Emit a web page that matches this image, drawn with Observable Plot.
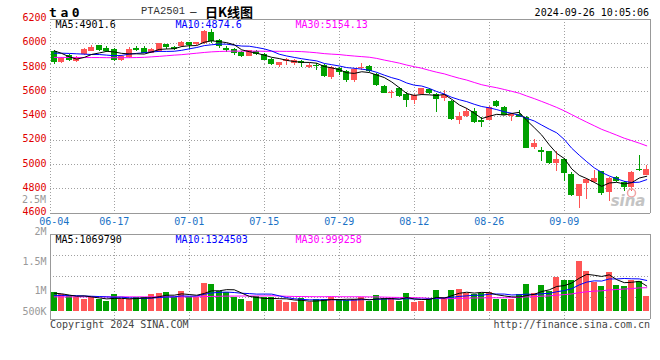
<!DOCTYPE html>
<html><head><meta charset="utf-8">
<script src="https://cdn.jsdelivr.net/npm/d3@7"></script>
<script src="https://cdn.jsdelivr.net/npm/@observablehq/plot@0.6"></script>
<style>
body{margin:0;background:#fff;}
#wrap{position:relative;width:660px;height:360px;overflow:hidden;background:#fff;font-family:"DejaVu Sans Mono",monospace;}
.abs{position:absolute;white-space:nowrap;line-height:1;}
#wrap svg{position:absolute;left:0;overflow:visible;}
</style></head><body><div id="wrap"></div>
<script>
// ---------------- data ----------------
const dates = ["06-04","06-05","06-06","06-07","06-11","06-12","06-13","06-14","06-17","06-18","06-19","06-20","06-21","06-24","06-25","06-26","06-27","06-28",
"07-01","07-02","07-03","07-04","07-05","07-08","07-09","07-10","07-11","07-12","07-15","07-16","07-17","07-18","07-19","07-22","07-23","07-24","07-25","07-26","07-29","07-30","07-31",
"08-01","08-02","08-05","08-06","08-07","08-08","08-09","08-12","08-13","08-14","08-15","08-16","08-19","08-20","08-21","08-22","08-23","08-26","08-27","08-28","08-29","08-30",
"09-02","09-03","09-04","09-05","09-06","09-09","09-10","09-11","09-12","09-13","09-18","09-19","09-20","09-23","09-24","09-25","09-26"];
const open = [5929,5842,5902,5853,5907,5935,5978,5954,5946,5859, 5883,5956,5956,5918,5932,5986,5962,5973,6003,5989,
  6000,6087,6019,5959,5946,5924,5891,5932,5908,5867, 5815,5853,5837,5848,5804,5815,5818,5720,5788,5766,
  5693,5788,5807,5742,5646,5584,5630,5578,5529,5578, 5619,5578,5543,5516,5366,5393,5439,5366,5366,5516,
  5472,5399,5412,5390,5140,5113,5105,5010,5040,4917, 4740,4844,4849,4939,4765,4893,4849,4808,4958,4912];
const close = [5842,5878,5861,5886,5948,5967,5937,5929,5859,5891, 5946,5940,5918,5946,5995,5965,5951,6008,5978,6003,
  6101,6011,5973,5937,5916,5891,5937,5905,5861,5826, 5839,5864,5856,5829,5820,5807,5728,5801,5755,5693,
  5780,5796,5769,5652,5589,5597,5562,5529,5573,5624, 5584,5537,5570,5374,5393,5439,5344,5344,5467,5475,
  5407,5412,5390,5135,5176,5099,5010,5040,4923,4746, 4835,4876,4882,4760,4884,4863,4808,4936,4950,4958];
const high = [5937,5883,5907,5891,5954,5978,5984,5970,5959,5902, 5962,5970,5970,5954,6000,5992,5973,6014,6008,6008,
  6103,6114,6033,5973,5956,5929,5943,5943,5916,5875, 5845,5875,5867,5856,5837,5834,5823,5807,5799,5774,
  5788,5837,5815,5747,5652,5611,5635,5597,5578,5630, 5630,5584,5611,5529,5429,5461,5461,5385,5480,5529,
  5478,5420,5445,5396,5203,5140,5110,5108,5048,4936, 4835,4884,4952,4944,4890,4903,4863,4944,5072,4990];
const low = [5823,5834,5853,5845,5902,5929,5932,5924,5853,5853, 5875,5929,5913,5913,5924,5951,5937,5965,5951,5984,
  5992,6000,5959,5924,5897,5883,5888,5897,5856,5820, 5801,5820,5820,5801,5793,5774,5720,5701,5733,5679,
  5673,5774,5761,5644,5584,5543,5556,5467,5494,5570, 5578,5426,5516,5366,5333,5385,5339,5303,5361,5469,
  5401,5358,5385,5129,5121,5026,5004,4944,4863,4740, 4637,4713,4841,4748,4691,4854,4781,4781,4944,4912];
const volume = [984000,944000,916000,900000,860000,900000,860000,832000,944000,860000,
  860000,888000,888000,944000,961000,984000,888000,1000000,888000,900000,
  1135000,1113000,1000000,984000,888000,860000,832000,910000,900000,888000,
  843000,815000,815000,872000,815000,860000,860000,900000,860000,843000,
  860000,889000,822000,928000,872000,872000,832000,966000,804000,827000,
  872000,1012000,900000,1012000,1029000,961000,939000,961000,984000,860000,
  860000,860000,944000,1113000,961000,1096000,1000000,1231000,1180000,1180000,
  1500000,1332000,1152000,1079000,1315000,1096000,1079000,1180000,1163000,916000];
// moving-average values at the start of the window (their earlier inputs are off-chart)
const ma5Head = [5937,5916,5888,5869];
const ma10Head = [5918,5918,5916,5913,5910,5907,5907,5902,5897];
const ma30Head = [5883,5883,5883,5883,5882,5882,5882,5881,5881,5881,5881,5882,5884,5888,5892,5897,5902,5906,5912,5918,5924,5929,5932,5934,5935,5935,5935,5935,5934];
const volMa5Head = [967000,956000,935000,915000];
const volMa10Head = [930000,930000,928000,925000,920000,915000,910000,905000,898000];
const volMa30Head = [905000,905000,905000,905000,905000,905000,905000,905000,905000,905000,905000,905000,905000,905000,905000,905000,905000,905000,905000,905000,910000,912000,915000,917000,918000,919000,920000,920000,920000];
const priceTicks = [4600,4800,5000,5200,5400,5600,5800,6000,6200];
const dateTicks = ["06-04","06-17","07-01","07-15","07-29","08-12","08-26","09-09"];
const volTicks = [2000000,1500000,1000000,500000];
const volTickLabels = ["2M","1.5M","1M","500K"];
const priceLegend = ["MA5:4901.6","MA10:4874.6","MA30:5154.13"];
const volLegend = ["MA5:1069790","MA10:1324503","MA30:999258"];

// ---------------- derived ----------------
function movingAvg(vals, k, head) {
  return vals.map((_, i) => i < head.length ? head[i] : d3.mean(vals.slice(i - k + 1, i + 1)));
}
const ma5 = movingAvg(close, 5, ma5Head), ma10 = movingAvg(close, 10, ma10Head), ma30 = movingAvg(close, 30, ma30Head);
const vma5 = movingAvg(volume, 5, volMa5Head), vma10 = movingAvg(volume, 10, volMa10Head), vma30 = movingAvg(volume, 30, volMa30Head);
const N = dates.length;
const rows = dates.map((d, i) => ({i, date: d, open: open[i], close: close[i], high: high[i], low: low[i], vol: volume[i],
  up: close[i] >= open[i], ma5: ma5[i], ma10: ma10[i], ma30: ma30[i], vma5: vma5[i], vma10: vma10[i], vma30: vma30[i]}));
const tickIdx = dateTicks.map(t => dates.indexOf(t));

// ---------------- styles ----------------
const RED = "#ff5555", GREEN = "#00a000", GRID = "#a0a0a0", BORDER = "#999", BLUE = "#1a72c6";
const LEG = ["#000", "#0000ff", "#ff00ff"];
const MONO = "'DejaVu Sans Mono', monospace";
const xDomain = [-0.5, N - 0.5];
const [pMin, pMax] = [priceTicks[0], priceTicks[priceTicks.length - 1]];
const volFloor = 532000, volTop = 1950000, volBase = 658000;
const dotted = {stroke: GRID, strokeDasharray: "1,2", shapeRendering: "crispEdges"};
const solid = {stroke: BORDER, shapeRendering: "crispEdges"};

const wrap = document.getElementById("wrap");

const price = Plot.plot({
  width: 660, height: 228,
  marginLeft: 50, marginRight: 10, marginTop: 18.5, marginBottom: 15.5,
  x: {domain: xDomain, axis: null},
  y: {domain: [pMin, pMax], axis: null},
  style: {fontFamily: MONO, fontSize: "10px", background: "transparent"},
  marks: [
    Plot.ruleY(priceTicks.filter(v => v > pMin && v < pMax), dotted),
    Plot.ruleX(tickIdx.filter(i => i > 0), dotted),
    Plot.ruleX([xDomain[0]], dotted),
    Plot.ruleX([xDomain[1]], solid),
    Plot.ruleY([pMin, pMax], solid),
    Plot.ruleX(rows, {x: "i", y1: "low", y2: "high", stroke: d => d.up ? RED : GREEN, shapeRendering: "crispEdges"}),
    Plot.rect(rows, {x1: d => d.i - 0.4, x2: d => d.i + 0.4, y1: "open", y2: "close", fill: d => d.up ? RED : GREEN, shapeRendering: "crispEdges"}),
    Plot.line(rows, {x: "i", y: "ma30", stroke: LEG[2], strokeWidth: 1}),
    Plot.line(rows, {x: "i", y: "ma10", stroke: LEG[1], strokeWidth: 1}),
    Plot.line(rows, {x: "i", y: "ma5", stroke: LEG[0], strokeWidth: 1}),
    Plot.text(priceTicks, {y: d => d, text: d => String(d), frameAnchor: "left", lineAnchor: "middle", textAnchor: "end", dx: -4, dy: -1, fill: "#e00000"}),
    Plot.text(dateTicks, {x: d => dates.indexOf(d), text: d => d, frameAnchor: "bottom", lineAnchor: "middle", dy: 8.5, fill: BLUE}),
    ...priceLegend.map((t, k) => Plot.text([t], {text: d => d, frameAnchor: "top-left", lineAnchor: "middle", textAnchor: "start", dx: 5 + 120 * k, dy: 5.5, fill: LEG[k]})),
    Plot.dot([0], {frameAnchor: "bottom-right", dx: -19, dy: -20, r: 4, stroke: "#f2a4a4", strokeWidth: 1.5, fill: "none"}),
    Plot.text(["sina"], {text: d => d, frameAnchor: "bottom-right", lineAnchor: "middle", textAnchor: "end", dx: -5, dy: -12, fill: "#c4c4c4", fontSize: 15, fontWeight: "bold", fontStyle: "italic", fontFamily: "'DejaVu Sans', sans-serif"})
  ]
});
price.style.top = "0px";
wrap.appendChild(price);

const volPlot = Plot.plot({
  width: 660, height: 134,
  marginLeft: 50, marginRight: 10, marginTop: 8.3, marginBottom: 41.5,
  x: {domain: xDomain, axis: null},
  y: {domain: [volFloor, volTop], axis: null},
  style: {fontFamily: MONO, fontSize: "10px", background: "transparent"},
  marks: [
    Plot.ruleY(d3.range(1, 4).map(k => volFloor + k * (volTop - volFloor) / 4), dotted),
    Plot.ruleX(tickIdx.filter(i => i > 0), dotted),
    Plot.ruleX(xDomain, solid),
    Plot.ruleY([volFloor, volTop], solid),
    Plot.rect(rows, {x1: d => d.i - 0.4, x2: d => d.i + 0.4, y1: volBase, y2: "vol", fill: d => d.up ? RED : GREEN, shapeRendering: "crispEdges"}),
    Plot.line(rows, {x: "i", y: "vma30", stroke: LEG[2], strokeWidth: 1}),
    Plot.line(rows, {x: "i", y: "vma10", stroke: LEG[1], strokeWidth: 1}),
    Plot.line(rows, {x: "i", y: "vma5", stroke: LEG[0], strokeWidth: 1}),
    Plot.text(volTicks, {y: d => Math.max(d, volBase), text: (d, i) => volTickLabels[i], frameAnchor: "left", lineAnchor: "middle", textAnchor: "end", dx: -4, fill: "#999"}),
    ...volLegend.map((t, k) => Plot.text([t], {text: d => d, frameAnchor: "top-left", lineAnchor: "middle", textAnchor: "start", dx: 5 + 120 * k, dy: 4.7, fill: LEG[k]}))
  ]
});
volPlot.style.top = "226px";
wrap.appendChild(volPlot);

// ---------------- header / footer text ----------------
function label(txt, x, yc, style, anchorEnd) {
  const d = document.createElement("div");
  d.className = "abs";
  d.textContent = txt;
  d.style.left = x + "px";
  d.style.top = yc + "px";
  d.style.transform = `translate(${anchorEnd ? "-100%" : "0"},-50%)`;
  Object.assign(d.style, style);
  wrap.appendChild(d);
}
label("ta0", 49, 11.5, {font: `bold 13px ${MONO}`, letterSpacing: "3.6px", color: "#000"});
label("PTA2501", 141, 10.5, {font: "10.5px 'Liberation Mono', monospace", color: "#333"});
label("—", 190, 10.5, {font: `11px ${MONO}`, color: "#000"});
label("日K线图", 205, 11, {font: "bold 13px 'Noto Sans CJK SC', sans-serif", color: "#000"});
label("2024-09-26 10:05:06", 649, 11.5, {font: `10px ${MONO}`, color: "#000"}, true);
label("2.5M", 46, 199, {font: `10px ${MONO}`, color: "#999"}, true);
label("Copyright 2024 SINA.COM", 50, 323.5, {font: `10px ${MONO}`, color: "#444"});
label("http://finance.sina.com.cn", 650, 323.5, {font: `10px ${MONO}`, color: "#444"}, true);
</script>
</body></html>
